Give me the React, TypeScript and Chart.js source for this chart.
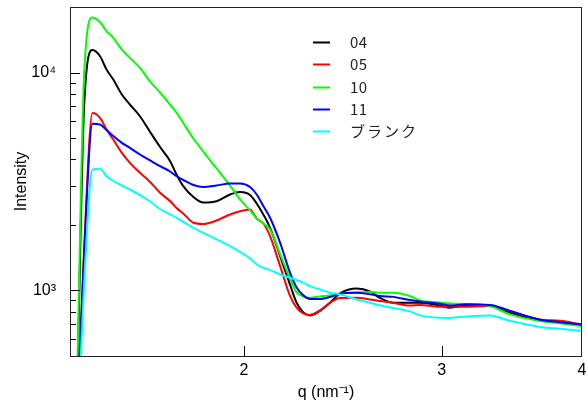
import React, { useEffect, useRef } from "react";
import { Chart, registerables } from "chart.js";

Chart.register(...registerables);

// q (nm^-1) sample positions, shared by every series
const q = [1.42, 1.441, 1.466, 1.489, 1.509, 1.53, 1.557, 1.583, 1.616, 1.65, 1.684, 1.719, 1.742, 1.766, 1.803, 1.84, 1.891, 1.944, 1.984, 2.025, 2.053, 2.081, 2.11, 2.154, 2.198, 2.228, 2.259, 2.29, 2.337, 2.386, 2.435, 2.52, 2.59, 2.643, 2.716, 2.811, 2.869, 2.989, 3.051, 3.158, 3.312, 3.451, 3.669, 3.823, 4.0];

const s04 = [300, 6908, 12680, 11880, 10320, 9288, 7927, 7133, 6302, 5334, 4552, 3920, 3405, 3009, 2686, 2533, 2568, 2756, 2830, 2742, 2506, 2232, 1939, 1437, 1065, 878, 793, 768, 805, 878, 969, 1021, 989, 924, 878, 878, 878, 853, 833, 853, 849, 790, 731, 710, 691];
const s05 = [250, 1542, 6519, 6197, 5477, 4928, 4281, 3853, 3467, 3147, 2806, 2568, 2390, 2255, 2045, 2019, 2095, 2232, 2311, 2346, 2140, 2029, 1775, 1293, 944, 833, 784, 772, 810, 878, 924, 926, 909, 895, 878, 853, 858, 842, 842, 842, 849, 804, 736, 725, 698];
const s10 = [350, 9690, 17880, 17010, 15470, 14430, 12750, 11680, 10510, 9090, 8100, 7130, 6550, 5870, 4980, 4340, 3630, 3030, 2615, 2330, 2140, 2030, 1905, 1463, 1135, 979, 939, 926, 939, 949, 969, 979, 984, 976, 976, 942, 900, 881, 872, 867, 847, 776, 723, 706, 684];
const s11 = [250, 1463, 5818, 5775, 5448, 5113, 4759, 4512, 4206, 3949, 3717, 3515, 3345, 3213, 3047, 2983, 3031, 3096, 3096, 2983, 2756, 2441, 2155, 1655, 1206, 1032, 949, 914, 914, 934, 966, 976, 959, 942, 934, 904, 890, 869, 853, 863, 858, 805, 734, 715, 698];
const sBlank = [200, 1065, 3590, 3617, 3345, 3179, 3031, 2906, 2740, 2560, 2365, 2232, 2155, 2062, 1939, 1839, 1714, 1597, 1502, 1402, 1319, 1269, 1240, 1184, 1144, 1117, 1085, 1046, 1011, 976, 959, 909, 878, 855, 830, 801, 768, 749, 748, 760, 768, 725, 680, 667, 652];

const seriesLabels = ["04", "05", "10", "11", "ブランク"];
const seriesColors = ["#000000", "#ff0000", "#00ff00", "#0000ff", "#00ffff"];
const seriesValues = [s04, s05, s10, s11, sBlank];

const xRange = [1.4, 4];
const yRange = [500, 20000];
const xTickValues = [2, 3, 4];
const yMajorTicks = [1000, 10000];
const yMinorTicks = [600, 700, 800, 900, 2000, 3000, 4000, 5000, 6000, 7000, 8000, 9000];
const supDigits: Record<string, string> = { "0": "⁰", "1": "¹", "2": "²", "3": "³", "4": "⁴", "5": "⁵" };

const decorPlugin = {
  id: "decor",
  afterDatasetsDraw(chart: any) {
    const { ctx, chartArea: a, scales } = chart;
    ctx.save();
    ctx.strokeStyle = "#000";
    ctx.lineWidth = 1;
    // inward tick marks
    xTickValues.forEach((v) => {
      const px = Math.round(scales.x.getPixelForValue(v)) + 0.5;
      if (px > a.right - 2) return;
      ctx.beginPath();
      ctx.moveTo(px, a.bottom);
      ctx.lineTo(px, a.bottom - 10);
      ctx.stroke();
    });
    [...yMajorTicks, ...yMinorTicks].forEach((v) => {
      const py = Math.round(scales.y.getPixelForValue(v)) + 0.5;
      const len = yMajorTicks.includes(v) ? 10 : 6;
      ctx.beginPath();
      ctx.moveTo(a.left, py);
      ctx.lineTo(a.left + len, py);
      ctx.stroke();
    });
    // frame
    ctx.strokeStyle = "#222";
    ctx.strokeRect(a.left + 0.5, a.top + 0.5, a.right - a.left - 1, a.bottom - a.top);
    // legend
    const lx = a.left + 243;
    const ly = a.top + 35;
    ctx.font = '15px "Noto Sans CJK JP", "Noto Sans", sans-serif';
    ctx.textBaseline = "middle";
    ctx.textAlign = "left";
    chart.data.datasets.forEach((ds: any, i: number) => {
      const y = Math.round(ly + i * 22.3) + 0.5;
      ctx.strokeStyle = ds.borderColor;
      ctx.lineWidth = 2;
      ctx.beginPath();
      ctx.moveTo(lx, y);
      ctx.lineTo(lx + 17, y);
      ctx.stroke();
      ctx.fillStyle = "#222";
      (ctx as any).letterSpacing = /^[\x00-\x7f]*$/.test(ds.label) ? "0.5px" : "2px";
      ctx.fillText(ds.label, lx + 37, y);
    });
    ctx.restore();
  },
};

export default function App() {
  const ref = useRef<HTMLCanvasElement | null>(null);
  useEffect(() => {
    if (!ref.current) return;
    Chart.defaults.font.family = '"Liberation Sans", Arial, sans-serif';
    Chart.defaults.color = "#000";
    const chart = new Chart(ref.current, {
      type: "line",
      data: {
        datasets: seriesValues.map((vals, i) => ({
          label: seriesLabels[i],
          data: q.map((x, j) => ({ x, y: vals[j] })),
          borderColor: seriesColors[i],
          backgroundColor: seriesColors[i],
          borderWidth: 2,
          pointRadius: 0,
          cubicInterpolationMode: "monotone" as const,
          order: seriesValues.length - i,
          clip: 0,
        })),
      },
      options: {
        animation: false,
        responsive: false,
        maintainAspectRatio: false,
        layout: { padding: { top: 7, right: 4, left: 0, bottom: 0 } },
        plugins: { legend: { display: false }, tooltip: { enabled: false } },
        scales: {
          x: {
            type: "logarithmic",
            min: xRange[0],
            max: xRange[1],
            grid: { display: false, drawTicks: false },
            border: { display: false },
            afterBuildTicks: (s: any) => {
              s.ticks = xTickValues.map((v) => ({ value: v }));
            },
            afterFit: (s: any) => {
              s.height = 50;
              s.paddingLeft = 0;
              s.paddingRight = 0;
            },
            ticks: {
              autoSkip: false,
              maxRotation: 0,
              padding: 5,
              font: { size: 16 },
              callback: (v: any) => String(v),
            },
            title: { display: true, text: "q (nm⁻¹)", font: { size: 16 }, padding: { top: 0, bottom: 4 } },
          },
          y: {
            type: "logarithmic",
            min: yRange[0],
            max: yRange[1],
            grid: { display: false, drawTicks: false },
            border: { display: false },
            afterBuildTicks: (s: any) => {
              s.ticks = [...yMinorTicks, ...yMajorTicks].sort((a, b) => a - b).map((v) => ({ value: v }));
            },
            afterFit: (s: any) => {
              s.width = 70;
              s.paddingTop = 0;
              s.paddingBottom = 0;
            },
            ticks: {
              autoSkip: false,
              padding: 14,
              font: { size: 16 },
              callback: (v: any) => {
                const n = Number(v);
                if (!yMajorTicks.includes(n)) return "";
                const e = String(Math.round(Math.log10(n)));
                return "10" + e.split("").map((d) => supDigits[d]).join("");
              },
            },
            title: { display: true, text: "Intensity", font: { size: 16 }, padding: { top: 12, bottom: 0 } },
          },
        },
      },
      plugins: [decorPlugin],
    });
    return () => chart.destroy();
  }, []);
  return (
    <div style={{ position: "fixed", left: 0, top: 0, width: 586, height: 406, background: "#fff" }}>
      <canvas ref={ref} width={586} height={406} style={{ display: "block", width: 586, height: 406 }} />
    </div>
  );
}
